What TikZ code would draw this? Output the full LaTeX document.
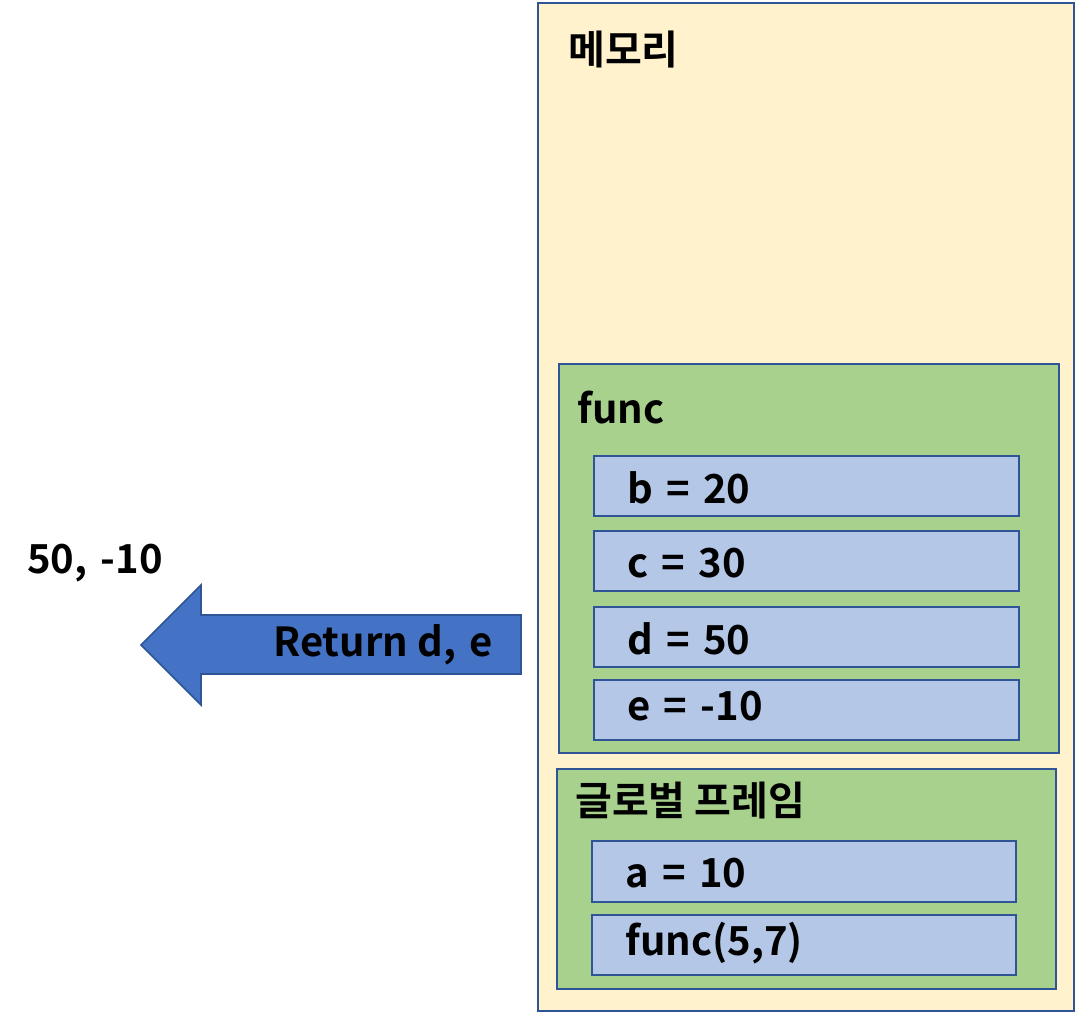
\documentclass[tikz,border=0pt]{standalone}
\usepackage{fontspec}
\setmainfont{Noto Sans CJK KR}[BoldFont={* Bold}]
\definecolor{memfill}{HTML}{FFF2CC}
\definecolor{frame}{HTML}{2F5597}
\definecolor{grn}{HTML}{A9D18E}
\definecolor{cellc}{HTML}{B4C7E7}
\definecolor{arr}{HTML}{4472C4}
\begin{document}
\begin{tikzpicture}[x=0.75pt,y=-0.75pt,
  boxbase/.style={draw=frame,line width=1.4pt,inner sep=0pt,anchor=north west},
  membox/.style={boxbase,fill=memfill},
  framebox/.style={boxbase,fill=grn},
  cellbox/.style={boxbase,fill=cellc},
  lbl/.style={font=\fontsize{30}{34}\selectfont\bfseries,inner sep=0pt,anchor=west}]
\useasboundingbox (0,0) rectangle (1075,1012);
% memory
\node[membox,minimum width=536*0.75pt,minimum height=1008*0.75pt] (mem) at (537,2) {};
\node[lbl] (memt) at (568,50) {메모리};
% func frame
\node[framebox,minimum width=500*0.75pt,minimum height=389*0.75pt] (ff) at (558,363) {};
\node[lbl] (fft) at (577,408) {func};
\node[cellbox,minimum width=425*0.75pt,minimum height=60*0.75pt] (cb) at (593,455) {};
\node[cellbox,minimum width=425*0.75pt,minimum height=60*0.75pt] (cc) at (593,530) {};
\node[cellbox,minimum width=425*0.75pt,minimum height=60*0.75pt] (cd) at (593,606) {};
\node[cellbox,minimum width=425*0.75pt,minimum height=60*0.75pt] (ce) at (593,679) {};
\node[lbl] (tb) at (627,488) {b\,\,=\,\,20};
\node[lbl] (tc) at (627,563) {c\,\,=\,\,30};
\node[lbl] (td) at (627,639) {d\,\,=\,\,50};
\node[lbl] (te) at (627,706) {e\,\,=\,\,-10};
% global frame
\node[framebox,minimum width=499*0.75pt,minimum height=220*0.75pt] (gf) at (556,768) {};
\node[lbl] (gft) at (575,800) {글로벌 프레임};
\node[cellbox,minimum width=424*0.75pt,minimum height=61*0.75pt] (ca) at (591,840) {};
\node[cellbox,minimum width=424*0.75pt,minimum height=60*0.75pt] (cf) at (591,914) {};
\node[lbl] (ta) at (625,873) {a\,\,=\,\,10};
\node[lbl] (tf) at (625,943) {func(5,7)};
% arrow
\draw[draw=frame,line width=1.2pt,fill=arr,line join=miter]
  (521,615) -- (201,615) -- (201,585) -- (141,645) -- (201,705) -- (201,674) -- (521,674) -- cycle;
\node[lbl,anchor=east] (ret) at (493,645) {Return d,\,\,e};
\node[lbl] (res) at (27,563) {50,\,\,-10};
\end{tikzpicture}
\end{document}
